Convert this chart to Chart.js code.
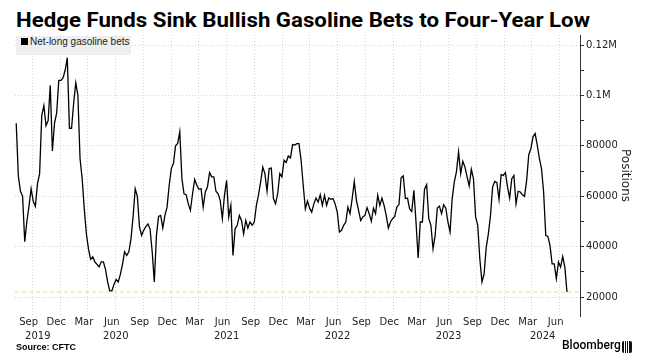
<!DOCTYPE html>
<html lang="en">
<head>
  <meta charset="UTF-8" />
  <title>Hedge Funds Sink Bullish Gasoline Bets</title>
  <script src="https://cdn.jsdelivr.net/npm/chart.js@4.4.1/dist/chart.umd.min.js"></script>
  <style>
    * { box-sizing: border-box; }
    body {
      margin: 0; width: 646px; height: 361px; overflow: hidden; position: relative;
      background: #fff; color: #000; font-family: "DejaVu Sans", sans-serif;
    }
    .title {
      position: absolute; left: 16px; top: 8px; white-space: nowrap;
      font: bold 20px Roboto, sans-serif; transform-origin: left top;
    }
    .chart-wrap { position: absolute; left: 0; top: 0; width: 646px; height: 361px; }
    .legend {
      position: absolute; left: 16px; top: 36px; width: 115px; height: 19px;
      background: #efefef; padding-left: 5px; line-height: 19px;
      font: 10px "Liberation Sans", sans-serif; color: #222; white-space: nowrap;
    }
    .legend i { display: inline-block; width: 7px; height: 7px; background: #000; margin-right: 2px; }
    .source { position: absolute; left: 16px; top: 342px; font: bold 9px "Liberation Sans", sans-serif; }
    .brand { position: absolute; left: 562px; top: 338px; font: 500 12px Roboto, sans-serif; }
    .brand-icon {
      position: absolute; left: 622px; top: 341px; width: 10px; height: 12px; border-radius: 2px;
      background: linear-gradient(90deg, #111 0 2px, #fff 2px 3px, #111 3px 4px, #fff 4px 5px, #111 5px 6px, #fff 6px 7px, #111 7px);
    }
  </style>
</head>
<body>
  <div class="title" id="title">Hedge Funds Sink Bullish Gasoline Bets to Four-Year Low</div>
  <div class="chart-wrap"><canvas id="chart" width="646" height="361"></canvas></div>
  <div class="legend"><i></i>Net-long gasoline bets</div>
  <div class="source">Source: CFTC</div>
  <div class="brand">Bloomberg</div>
  <div class="brand-icon"></div>

  <script>
    // weekly CFTC net-long positions (thousand contracts), first report 2019-07-09
    const firstWeek = '2019-07-09';
    const netLong = [
      89, 68, 62, 60, 42, 50, 56, 63, 58, 56, 65, 69, 92, 96, 88, 90, 104, 78, 89, 93,
      106, 106, 107, 110, 115, 87, 87, 97, 105, 100, 75, 67, 55, 45, 39, 35, 36, 34, 33, 32,
      34, 34, 31, 26, 22.5, 22.5, 25, 27, 26, 29, 33, 38, 36.5, 38, 43, 52, 63, 60, 48, 44.5,
      46.5, 48, 49, 47, 38, 26, 44.5, 52, 52.4, 47.4, 52.4, 55.7, 64.4, 71, 73, 80, 81, 85.6, 67, 61,
      60.6, 57, 54.4, 61, 66.7, 64.4, 62.8, 63, 55.7, 61.7, 63.7, 69.4, 67.7, 67.7, 62, 61, 58.4, 51.1, 60.4, 66.3,
      51.8, 56.4, 36.5, 47.1, 48.5, 52.4, 50.4, 45.1, 50.4, 47.4, 49.8, 48.5, 49.8, 56.4, 60.6, 65.7, 71.6, 69, 62, 71,
      71.2, 59.1, 57, 61, 69, 67.7, 74.3, 73.4, 76, 75.2, 80.5, 80.3, 80.9, 80.9, 74.3, 64.4, 55, 58.1, 55.3, 53.7,
      57, 59.3, 57.7, 60.6, 56.4, 60.4, 56.4, 59.3, 58.8, 59.1, 57, 53.7, 45.8, 46.5, 48.5, 49.8, 55.7, 53.1, 59.1, 65.9,
      58.4, 54.4, 50.4, 51.8, 52.4, 55.5, 53.1, 50.1, 55.3, 53.1, 60.4, 56.4, 59.3, 56.4, 52.4, 47.4, 49.8, 51.1, 52, 55.7,
      56.7, 67.3, 68.1, 59.1, 59.3, 55, 54, 62.4, 49.8, 35.5, 49.8, 49.8, 62.8, 64.6, 51.1, 48.5, 39.2, 44.5, 55.3, 56.1,
      53.1, 56.7, 55.3, 49.8, 45.8, 59.1, 65.7, 69.7, 77.6, 69, 73.9, 71.6, 67.7, 64.1, 70.7, 67, 51.8, 48.5, 35, 26,
      29.2, 39.7, 45.1, 52.4, 63.7, 65.9, 65.4, 58.8, 68.6, 68.3, 69.4, 63.7, 59.3, 67, 68.3, 57, 62, 61.7, 60.6, 60,
      66.3, 76.5, 78.9, 83.6, 84.9, 80.3, 75, 71, 61.7, 44.5, 44.1, 40.5, 33.2, 33.2, 27.3, 33.9, 31.9, 36.1, 31.9, 22
    ];
    const lowLevel = 22; // latest reading, marked across the chart

    const tickMonths = [
      '2019-09', '2019-12', '2020-03', '2020-06', '2020-09', '2020-12', '2021-03', '2021-06',
      '2021-09', '2021-12', '2022-03', '2022-06', '2022-09', '2022-12', '2023-03', '2023-06',
      '2023-09', '2023-12', '2024-03', '2024-06'
    ];
    const monthNames = ['Jan', 'Feb', 'Mar', 'Apr', 'May', 'Jun', 'Jul', 'Aug', 'Sep', 'Oct', 'Nov', 'Dec'];
    const yearLabels = ['2019', '2020', '2021', '2022', '2023', '2024'];
    const yearLabelDates = ['2019-09-18', '2020-06-01', '2021-06-01', '2022-06-01', '2023-06-01', '2024-04-06'];
    const yTicks = [20, 30, 40, 50, 60, 70, 80, 90, 100, 110, 120];
    const xStart = '2019-07-05', xEnd = '2024-08-07';

    function toYear(str) {
      const d = new Date(str + (str.length === 7 ? '-01' : '') + 'T00:00:00Z');
      const y = d.getUTCFullYear();
      const s = Date.UTC(y, 0, 1), e = Date.UTC(y + 1, 0, 1);
      return y + (d - s) / (e - s);
    }
    function weekDate(i) {
      const d = new Date(Date.parse(firstWeek + 'T00:00:00Z') + i * 7 * 86400000);
      return d.toISOString().slice(0, 10);
    }

    // fit title to reference width
    const title = document.getElementById('title');
    title.style.transform = 'scaleX(' + (574 / title.getBoundingClientRect().width) + ')';

    const xMin = toYear(xStart), xMax = toYear(xEnd);
    const seriesPoints = netLong.map((v, i) => ({ x: toYear(weekDate(i)), y: v }));
    const monthTickValues = tickMonths.map(toYear);
    const yearTickValues = yearLabelDates.map(toYear);
    const tickFont = { family: '"DejaVu Sans", sans-serif', size: 10 };

    new Chart(document.getElementById('chart'), {
      type: 'line',
      data: {
        datasets: [
          {
            data: seriesPoints,
            borderColor: '#000', borderWidth: 1.3, pointRadius: 0, tension: 0, order: 1
          },
          {
            data: [{ x: xMin, y: lowLevel }, { x: xMax, y: lowLevel }],
            borderColor: 'rgba(245,225,150,0.6)', borderWidth: 2, borderDash: [4, 3],
            pointRadius: 0, order: 2
          }
        ]
      },
      options: {
        responsive: false,
        animation: false,
        devicePixelRatio: 1,
        layout: { padding: { top: 35, left: 15, right: 0, bottom: 17 } },
        plugins: { legend: { display: false }, tooltip: { enabled: false } },
        scales: {
          x: {
            type: 'linear', min: xMin, max: xMax, weight: 0,
            afterBuildTicks: s => { s.ticks = monthTickValues.map(v => ({ value: v })); },
            afterFit: s => { s.height = 14; },
            ticks: {
              autoSkip: false, maxRotation: 0, padding: 0, labelOffset: -4, color: '#222', font: tickFont,
              callback: (v, i) => monthNames[parseInt(tickMonths[i].slice(5), 10) - 1]
            },
            grid: { color: '#d6d6d6', lineWidth: 1, drawTicks: false },
            border: { display: false, dash: [1, 2] }
          },
          x2: {
            type: 'linear', axis: 'x', position: 'bottom', min: xMin, max: xMax, weight: 1,
            afterBuildTicks: s => { s.ticks = yearTickValues.map(v => ({ value: v })); },
            afterFit: s => { s.height = 14; },
            ticks: {
              autoSkip: false, maxRotation: 0, padding: 0, color: '#222', font: tickFont,
              callback: (v, i) => yearLabels[i]
            },
            grid: { display: false, drawTicks: false },
            border: { display: false }
          },
          y: {
            type: 'linear', position: 'right', min: 12.5, max: 124,
            afterBuildTicks: s => { s.ticks = yTicks.map(v => ({ value: v })); },
            afterFit: s => { s.width = 66; },
            ticks: {
              autoSkip: false, padding: 2, color: '#222', font: tickFont,
              callback: v => v % 20 !== 0 ? '' : (v >= 100 ? (v / 1000) + 'M' : String(v * 1000))
            },
            grid: {
              color: c => (c.tick && c.tick.value % 20 === 0) ? '#d6d6d6' : 'rgba(0,0,0,0)',
              tickColor: '#333', tickLength: 4, tickBorderDash: []
            },
            border: { display: true, color: '#333', width: 1, dash: [1, 2] },
            title: {
              display: true, text: 'Positions', color: '#222',
              font: { family: '"DejaVu Sans", sans-serif', size: 12 },
              padding: { top: 14, bottom: 0 }
            }
          }
        }
      }
    });
  </script>
</body>
</html>
